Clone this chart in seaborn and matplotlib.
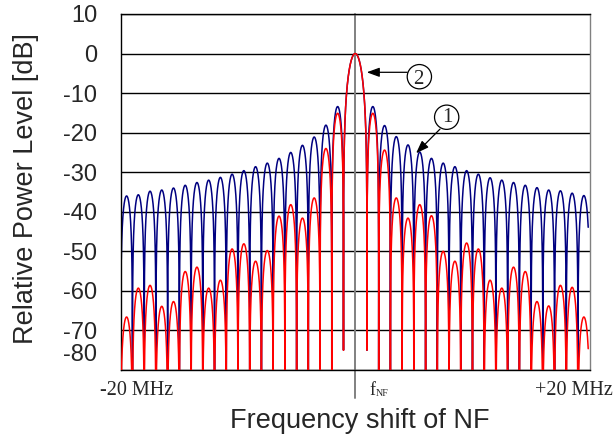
import numpy as np
import pandas as pd
import matplotlib
matplotlib.use("Agg")
import matplotlib.pyplot as plt
import seaborn as sns
from matplotlib.patches import Ellipse

# ---- spectrum data -------------------------------------------------------
# Each sidelobe occupies 1 MHz between two nulls; the values are the lobe
# peak levels in dB, listed from the outermost lobe towards the carrier
# (left side) and from the carrier outwards (right side).
lobe_centres_left = [-19.5, -18.5, -17.5, -16.5, -15.5, -14.5, -13.5, -12.5, -11.5, -10.5,
                     -9.5, -8.5, -7.5, -6.5, -5.5, -4.5, -3.5, -2.5, -1.5]
lobe_centres_right = [1.5, 2.5, 3.5, 4.5, 5.5, 6.5, 7.5, 8.5, 9.5, 10.5,
                      11.5, 12.5, 13.5, 14.5, 15.5, 16.5, 17.5, 18.5, 19.5]

# curve 1: unfiltered spectrum
blue_left = [-36.0, -35.7, -34.8, -34.5, -34.0, -33.3, -32.6, -32.0, -31.3, -30.5,
             -29.6, -28.6, -27.7, -26.5, -25.0, -23.2, -21.1, -18.1, -13.4]
blue_right = [-13.4, -18.2, -21.0, -23.1, -24.9, -26.5, -27.7, -28.6, -29.6, -30.5,
              -31.4, -32.0, -32.6, -33.3, -33.9, -34.5, -34.7, -35.3, -35.9]

# curve 2: filtered spectrum
red_left = [-66.6, -59.3, -58.6, -63.9, -62.7, -55.1, -54.0, -59.3, -57.3, -49.4,
            -48.1, -52.5, -49.8, -41.1, -38.2, -41.6, -36.5, -24.0, -15.1]
red_right = [-15.1, -24.4, -36.5, -41.6, -38.2, -41.0, -50.0, -52.5, -47.9, -49.4,
             -57.3, -59.3, -54.0, -55.1, -62.7, -63.8, -58.6, -59.1, -66.6]

main_lobe_peak = 0.0      # dB, carrier
first_null_depth = -75.0  # dB, depth of the nulls at +/-1 MHz

ytick_values = [10, 0, -10, -20, -30, -40, -50, -60, -70, -80]

F_START, F_STOP = -19.95, 19.87


def build_spectrum(freq, left, right, first_null=None):
    level = np.full_like(freq, -200.0)
    main = np.abs(freq) < 1.0
    level[main] = main_lobe_peak + 20 * np.log10(np.abs(np.sinc(freq[main])) + 1e-12)
    for centres, peaks in ((lobe_centres_left, left), (lobe_centres_right, right)):
        for c, p in zip(centres, peaks):
            sel = (freq >= c - 0.5) & (freq <= c + 0.5)
            phase = np.pi * (freq[sel] - (c - 0.5))
            level[sel] = p + 20 * np.log10(np.abs(np.sin(phase)) + 1e-12)
    if first_null is not None:
        near = np.abs(np.abs(freq) - 1.0) < 0.05
        level[near] = np.maximum(level[near], first_null)
    return level


nulls = np.arange(-19.0, 20.0, 1.0)
freq = np.union1d(np.linspace(F_START, F_STOP, 16001), nulls)
df = pd.DataFrame({
    "freq": freq,
    "blue": build_spectrum(freq, blue_left, blue_right, first_null_depth),
    "red": build_spectrum(freq, red_left, red_right, first_null_depth),
})

# ---- figure --------------------------------------------------------------
sns.set_theme(style="white")
plt.rcParams["font.family"] = ["Liberation Sans", "DejaVu Sans"]

fig = plt.figure(figsize=(6.15, 4.36), dpi=100)
ax = fig.add_axes([0.1963, 0.1514, 0.7626, 0.8165])

sns.lineplot(data=df, x="freq", y="blue", ax=ax, color="#000080", lw=1.1,
             estimator=None, sort=False, zorder=2)
ax.plot([0, 0], [10, -87.1], color="#808080", lw=1.4, clip_on=False, zorder=2.5)
sns.lineplot(data=df, x="freq", y="red", ax=ax, color="#FF0000", lw=1.1,
             estimator=None, sort=False, zorder=3)

ax.set_xlim(-20, 20)
ax.set_ylim(-80, 10)
ax.set_xticks([])
ax.set_yticks(ytick_values)
ax.set_yticklabels([str(v) for v in ytick_values[:-1]] + [""], fontsize=17)
ax.tick_params(axis="y", length=0, pad=17)
ax.annotate(str(ytick_values[-1]), xy=(0, ytick_values[-1]),
            xycoords=("axes fraction", "data"), xytext=(-23.5, 15),
            textcoords="offset pixels", ha="right", va="center", fontsize=17)

ax.yaxis.grid(True, color="black", lw=1.0)
ax.xaxis.grid(False)
for side in ("left", "top", "bottom"):
    ax.spines[side].set_color("black")
    ax.spines[side].set_linewidth(1.0)
ax.spines["right"].set_color("#808080")
ax.spines["right"].set_linewidth(1.0)

ax.set_ylabel("Relative Power Level [dB]", fontsize=19.5)
ax.yaxis.set_label_coords(-0.175, 0.51)
ax.set_xlabel("Frequency shift of NF", fontsize=19.5)
ax.xaxis.set_label_coords(0.51, -0.106)

# frequency markers under the axis
serif = ["Liberation Serif", "DejaVu Serif"]
ax.annotate("-20 MHz", xy=(-20, -80), xytext=(-20.7, -25), textcoords="offset pixels",
            ha="left", va="baseline", fontsize=14.5, family=serif, annotation_clip=False)
ax.annotate("+20 MHz", xy=(20, -80), xytext=(23.3, -25), textcoords="offset pixels",
            ha="right", va="baseline", fontsize=14.5, family=serif, annotation_clip=False)
ax.annotate("f", xy=(0, -80), xytext=(13.8, -25), textcoords="offset pixels",
            ha="left", va="baseline", fontsize=13, family=serif, annotation_clip=False)
ax.annotate("NF", xy=(0, -80), xytext=(20.5, -26), textcoords="offset pixels",
            ha="left", va="baseline", fontsize=7.2, family=serif, annotation_clip=False)

# numbered callouts
px_per_mhz = 469 / 40
px_per_db = 356 / 90
diam = 24.3
arrow = dict(arrowstyle="-|>,head_length=0.55,head_width=0.2", color="black",
             lw=0.9, mutation_scale=14, shrinkA=0, shrinkB=0)
for num, centre, tip, tail, digit in (
        ("2", (5.47, -5.85), (0.98, -4.74), (4.44, -4.74), (5.38, -6.6)),
        ("1", (7.80, -16.1), (5.19, -25.2), (7.23, -19.1), (7.84, -16.2))):
    ax.add_patch(Ellipse(centre, diam / px_per_mhz, diam / px_per_db,
                         fill=False, ec="black", lw=0.9, zorder=5))
    ax.text(digit[0], digit[1], num, ha="center", va="center", fontsize=15,
            family=serif, zorder=5)
    ax.annotate("", xy=tip, xytext=tail, arrowprops=arrow, zorder=5)

fig.savefig("out.png", dpi=100)
